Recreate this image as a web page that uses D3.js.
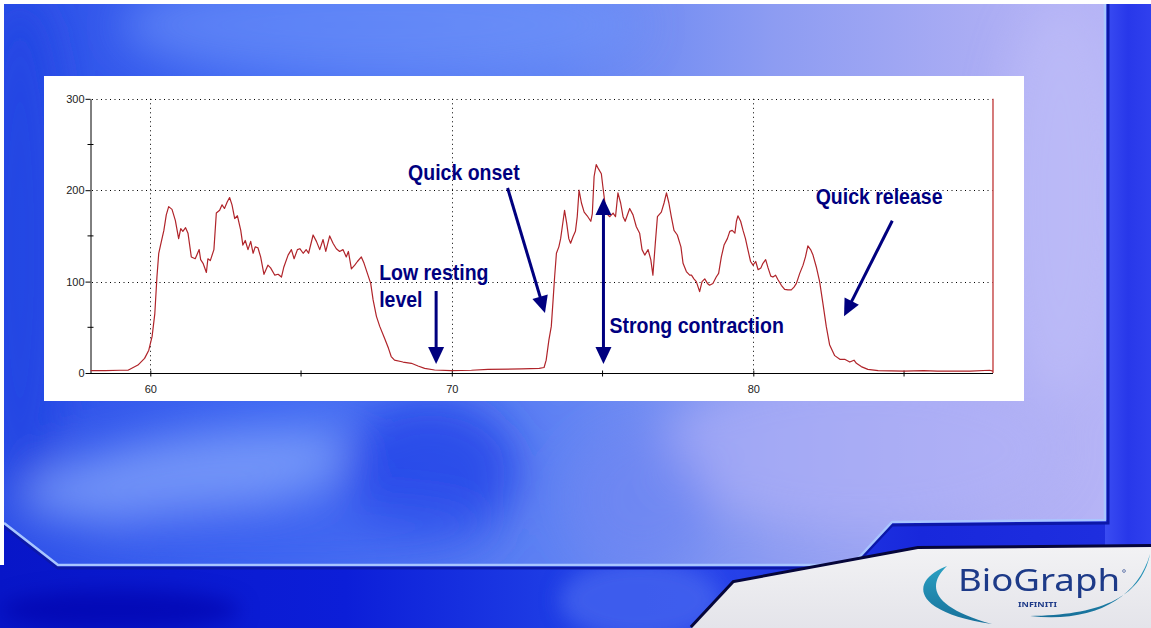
<!DOCTYPE html>
<html><head><meta charset="utf-8">
<script src="https://cdn.jsdelivr.net/npm/d3@7"></script>
<style>body{margin:0;background:#fff}svg{display:block}</style>
</head><body>
<svg id="c" width="1151" height="628"></svg>
<script>
// ---------- DATA ----------
const times = [58.02,58.5,59.0,59.26,59.59,59.81,59.95,60.06,60.15,60.22,60.28,60.34,60.45,60.53,60.61,60.72,60.83,60.94,61.01,61.08,61.17,61.25,61.36,61.49,61.62,61.67,61.75,61.86,61.91,61.99,62.11,62.19,62.30,62.38,62.46,62.55,62.63,62.71,62.80,62.89,63.0,63.07,63.15,63.24,63.33,63.41,63.48,63.57,63.66,63.77,63.90,63.99,64.13,64.24,64.35,64.43,64.57,64.68,64.77,64.88,64.96,65.07,65.17,65.25,65.40,65.51,65.62,65.73,65.82,65.95,66.06,66.17,66.28,66.39,66.50,66.57,66.67,66.78,66.87,67.0,67.09,67.20,67.31,67.39,67.50,67.61,67.77,67.90,67.99,68.1,68.38,68.66,68.88,69.10,69.43,69.98,70.65,71.2,72.31,72.9,73.06,73.13,73.22,73.30,73.36,73.41,73.47,73.55,73.61,73.69,73.74,73.81,73.88,73.94,74.02,74.10,74.16,74.22,74.30,74.39,74.49,74.61,74.66,74.72,74.79,74.87,74.96,75.01,75.12,75.24,75.35,75.43,75.51,75.60,75.68,75.75,75.90,76.01,76.12,76.23,76.31,76.40,76.51,76.60,76.67,76.75,76.82,76.95,77.04,77.12,77.20,77.28,77.37,77.48,77.60,77.67,77.78,77.89,77.95,78.03,78.11,78.22,78.30,78.39,78.48,78.55,78.66,78.77,78.85,78.94,79.03,79.14,79.22,79.30,79.39,79.44,79.49,79.58,79.66,79.74,79.82,79.91,79.99,80.08,80.16,80.25,80.32,80.41,80.49,80.58,80.65,80.74,80.82,80.93,81.04,81.15,81.26,81.35,81.43,81.54,81.65,81.73,81.81,81.90,81.98,82.09,82.20,82.31,82.42,82.53,82.70,82.87,83.03,83.20,83.34,83.42,83.58,83.80,84.14,85.0,85.65,86.1,87.2,87.84,87.95];
const values = [2.5,2.5,3,3,8.7,16,25,40,65,105,131,140,156,173,182,179,167,147,158,155,159,153,127,125,135,124,120,110,125,123,135,175,178,184,180,187,192,184,169,172,156,140,145,135,144,131,138,137,127,108,118,115,107,108,105,116,129,135,125,135,136,131,135,131,151,144,135,146,133,150,142,136,133,135,127,133,114,118,122,127,120,109,98,80,62,51,38,27,18,14,12,10.6,7.7,5,3.3,2.5,3,4,4.5,5,6,14,36,51,80,105,131,138,147,166,178,164,147,142,149,155,171,200,186,176,172,166,174,215,228,223,218,204,175,171,175,171,197,186,171,166,180,173,160,153,135,129,135,124,107,142,171,176,186,197,186,171,156,151,138,120,111,107,107,103,100,89,100,103,98,96,98,105,109,127,140,147,155,156,153,166,172,166,156,147,135,122,118,122,113,115,120,124,115,106,105,107,102,96,91.5,91,91,94,98,109,118,127,139,135,129,116,100,76,51,31,19,15,15,12,14,10.6,7,4,2.5,2,2.5,2,2,3,2];
const yTicks = [0, 100, 200, 300];
const yMinorTicks = [50, 150, 250];
const xTicks = [60, 70, 80];
const xMinorTicks = [65, 75, 85];
const annotationTexts = ["Quick onset", "Low resting", "level", "Strong contraction", "Quick release"];
const logoTexts = ["BioGraph", "INFINITI"];

// ---------- LAYOUT ----------
const svg = d3.select("#c");
const W = 1151, H = 628;
const xScale = d3.scaleLinear().domain([58, 88]).range([90, 994.5]);
const yScale = d3.scaleLinear().domain([0, 300]).range([373, 98.8]);
const navy = "#00007f";

const defs = svg.append("defs");
function lin(id, x2, y2, stops) {
  const g = defs.append("linearGradient").attr("id", id).attr("x1", 0).attr("y1", 0).attr("x2", x2).attr("y2", y2);
  stops.forEach(s => g.append("stop").attr("offset", s[0]).attr("stop-color", s[1]));
}
lin("panelGrad", 1, 0, [[0, "#2d4fe8"], [0.25, "#3f68f2"], [0.5, "#5f82f3"], [0.7, "#8d9cf2"], [0.9, "#adaef4"], [1, "#b6b4f6"]]);
lin("lowGrad", 1, 0, [[0, "#0816c8"], [0.3, "#0c1ed8"], [0.5, "#2040e6"], [0.62, "#2844ea"], [0.8, "#1828dc"], [1, "#2030e0"]]);
lin("stripGrad", 1, 0, [[0, "#3a4cf2"], [0.5, "#2838ea"], [1, "#3040ee"]]);
lin("grayGrad", 0, 1, [[0, "#f2f2f4"], [1, "#e4e4ea"]]);
lin("swoosh", 0, 1, [[0, "#2aa0c2"], [1, "#17709a"]]);
defs.append("filter").attr("id", "blur").attr("x", "-50%").attr("y", "-50%").attr("width", "200%").attr("height", "200%")
  .append("feGaussianBlur").attr("stdDeviation", 22);
defs.append("filter").attr("id", "blur2").attr("x", "-50%").attr("y", "-50%").attr("width", "200%").attr("height", "200%")
  .append("feGaussianBlur").attr("stdDeviation", 10);

const panelPts = [[0,0],[1105,0],[1105,520],[892,522],[852,565],[58,565],[4,523]];
defs.append("clipPath").attr("id", "panelClip").append("polygon").attr("points", panelPts.join(" "));

// lower dark area
svg.append("rect").attr("width", W).attr("height", H).attr("fill", "url(#lowGrad)");
svg.append("rect").attr("x", 1105).attr("y", 0).attr("width", 46).attr("height", 548).attr("fill", "url(#stripGrad)");
const low = svg.append("g").attr("filter", "url(#blur2)");
low.append("ellipse").attr("cx", 640).attr("cy", 600).attr("rx", 80).attr("ry", 40).attr("fill", "#4a68f0").attr("opacity", 0.7);
low.append("ellipse").attr("cx", 120).attr("cy", 610).attr("rx", 120).attr("ry", 20).attr("fill", "#0000a8").attr("opacity", 0.6);

// panel
const panel = svg.append("g").attr("clip-path", "url(#panelClip)");
panel.append("rect").attr("width", 1105).attr("height", 566).attr("fill", "url(#panelGrad)");
const blobs = panel.append("g").attr("filter", "url(#blur)");
blobs.append("ellipse").attr("cx", 380).attr("cy", 25).attr("rx", 260).attr("ry", 55).attr("fill", "#6f95fa").attr("opacity", 0.6);
blobs.append("ellipse").attr("cx", 20).attr("cy", 250).attr("rx", 50).attr("ry", 260).attr("fill", "#2244e2").attr("opacity", 0.8);
blobs.append("ellipse").attr("cx", 190).attr("cy", 475).attr("rx", 170).attr("ry", 40).attr("fill", "#85a6fb").attr("opacity", 0.75)
  .attr("transform", "rotate(-8 190 475)");
blobs.append("ellipse").attr("cx", 430).attr("cy", 470).attr("rx", 90).attr("ry", 70).attr("fill", "#1a3ae6").attr("opacity", 0.7);
blobs.append("ellipse").attr("cx", 300).attr("cy", 530).attr("rx", 200).attr("ry", 30).attr("fill", "#3a60f0").attr("opacity", 0.6);
blobs.append("ellipse").attr("cx", 860).attr("cy", 450).attr("rx", 200).attr("ry", 80).attr("fill", "#b2b2f6").attr("opacity", 0.6);
blobs.append("ellipse").attr("cx", 640).attr("cy", 500).attr("rx", 70).attr("ry", 70).attr("fill", "#6e86f2").attr("opacity", 0.6);
blobs.append("ellipse").attr("cx", 1060).attr("cy", 200).attr("rx", 60).attr("ry", 200).attr("fill", "#c0bef8").attr("opacity", 0.6);

// frame line
svg.append("polyline").attr("points", [[4,526],[58,568],[852,568],[892,525],[1108,523],[1108,0]].join(" "))
  .attr("fill", "none").attr("stroke", "#0c18a8").attr("stroke-width", 3);
svg.append("polyline").attr("points", panelPts.slice(1).concat([[4,523]]).join(" "))
  .attr("fill", "none").attr("stroke", "#a9c6ff").attr("stroke-width", 2.5).attr("stroke-linejoin", "round");

// gray logo area
const grayPts = [[692,628],[734,583],[918,549],[1151,547],[1151,628]];
svg.append("polyline").attr("points", grayPts.slice(0, 4).join(" ")).attr("fill", "none").attr("stroke", "#06063a").attr("stroke-width", 6);
svg.append("polygon").attr("points", grayPts.join(" ")).attr("fill", "url(#grayGrad)");

// white margins
svg.append("rect").attr("width", W).attr("height", 4).attr("fill", "#fff");
svg.append("rect").attr("width", 4).attr("height", 565).attr("fill", "#fff");

// ---------- CHART PANEL ----------
svg.append("rect").attr("x", 44).attr("y", 76).attr("width", 980).attr("height", 325).attr("fill", "#fff");

const chart = svg.append("g");
chart.selectAll("line.hg").data(yTicks.filter(d => d > 0)).join("line")
  .attr("x1", xScale(58) + 2).attr("x2", xScale(87.95))
  .attr("y1", d => Math.round(yScale(d)) + 0.5).attr("y2", d => Math.round(yScale(d)) + 0.5)
  .attr("stroke", "#000").attr("stroke-dasharray", "1,3.5").attr("stroke-width", 1);
chart.selectAll("line.vg").data(xTicks).join("line")
  .attr("x1", d => Math.round(xScale(d)) + 0.5).attr("x2", d => Math.round(xScale(d)) + 0.5)
  .attr("y1", yScale(300)).attr("y2", yScale(0))
  .attr("stroke", "#000").attr("stroke-dasharray", "1,3.5").attr("stroke-width", 1);

chart.append("line").attr("x1", xScale(87.95)).attr("x2", xScale(87.95))
  .attr("y1", yScale(300)).attr("y2", yScale(0)).attr("stroke", "#cc5a5a").attr("stroke-width", 1.6);

const yAxis = chart.append("g").attr("transform", `translate(${xScale(58) + 0.5},0)`)
  .call(d3.axisLeft(yScale).tickValues(yTicks).tickSize(5).tickPadding(1).tickSizeOuter(0));
yAxis.selectAll("text").attr("font-family", "Liberation Sans, Arial, sans-serif").attr("font-size", 11).attr("fill", "#222");
yAxis.select(".domain").attr("stroke", "#000");
yAxis.selectAll("line.minor").data(yMinorTicks).join("line").attr("class", "minor")
  .attr("x1", -3).attr("x2", 3).attr("y1", d => yScale(d)).attr("y2", d => yScale(d)).attr("stroke", "#000");

const xAxis = chart.append("g").attr("transform", `translate(0,${yScale(0) + 0.5})`)
  .call(d3.axisBottom(xScale).tickValues(xTicks).tickSize(3).tickSizeOuter(0));
xAxis.selectAll(".tick line").attr("y1", -3);
xAxis.selectAll("text").attr("y", 12).attr("font-family", "Liberation Sans, Arial, sans-serif").attr("font-size", 11).attr("fill", "#222");
xAxis.select(".domain").attr("stroke", "#000").attr("d", `M${xScale(58)},0H${xScale(87.95)}`);
xAxis.selectAll("line.minor").data(xMinorTicks).join("line").attr("class", "minor")
  .attr("x1", d => xScale(d)).attr("x2", d => xScale(d)).attr("y1", -3).attr("y2", 3).attr("stroke", "#000");

const series = times.map((t, i) => [t, values[i]]);
chart.append("path").datum(series)
  .attr("d", d3.line().x(d => xScale(d[0])).y(d => yScale(d[1])))
  .attr("fill", "none").attr("stroke", "#b0242a").attr("stroke-width", 1.2).attr("stroke-linejoin", "round");

// ---------- ANNOTATIONS ----------
const annoPos = [[68.55, 211], [67.59, 101.7], [67.59, 71.7], [75.23, 43.8], [82.07, 184.9]];
annotationTexts.forEach((t, i) => {
  chart.append("text")
    .attr("transform", `translate(${xScale(annoPos[i][0])},${yScale(annoPos[i][1])}) scale(1,1.15)`)
    .attr("font-family", "Liberation Sans, Arial, sans-serif").attr("font-weight", "bold")
    .attr("font-size", 19.5).attr("fill", navy).text(t);
});

const arrows = [
  { from: [69.48, 89.7], to: [69.48, 9.8], both: false },
  { from: [71.85, 202.4], to: [73.09, 65.6], both: false },
  { from: [75.03, 9.8], to: [75.03, 191.5], both: true },
  { from: [84.61, 166.6], to: [83.01, 62], both: false }
];
function head(x, y, ang) {
  const L = 17, w = 8;
  const bx = x - L * Math.cos(ang), by = y - L * Math.sin(ang);
  const nx = -Math.sin(ang) * w, ny = Math.cos(ang) * w;
  chart.append("polygon").attr("points", [[x, y], [bx + nx, by + ny], [bx - nx, by - ny]].join(" ")).attr("fill", navy);
}
arrows.forEach(a => {
  const x1 = xScale(a.from[0]), y1 = yScale(a.from[1]), x2 = xScale(a.to[0]), y2 = yScale(a.to[1]);
  const ang = Math.atan2(y2 - y1, x2 - x1);
  const sx = a.both ? x1 + 14 * Math.cos(ang) : x1, sy = a.both ? y1 + 14 * Math.sin(ang) : y1;
  chart.append("line").attr("x1", sx).attr("y1", sy)
    .attr("x2", x2 - 14 * Math.cos(ang)).attr("y2", y2 - 14 * Math.sin(ang))
    .attr("stroke", navy).attr("stroke-width", 3);
  head(x2, y2, ang);
  if (a.both) head(x1, y1, ang + Math.PI);
});

// ---------- LOGO ----------
const logo = svg.append("g");
logo.append("path").attr("d", "M947,566 C910,580 910,612 992,624 C932,607 926,586 947,566 Z").attr("fill", "url(#swoosh)");
logo.append("path").attr("d", "M1030,616 C1092,623 1137,600 1150,554 C1141,600 1096,615 1030,616 Z").attr("fill", "url(#swoosh)");
logo.append("text").attr("x", 958).attr("y", 591).attr("font-family", "'Noto Sans', 'DejaVu Sans', sans-serif")
  .attr("font-size", 31).attr("fill", "#1d3a88").attr("textLength", 162).attr("lengthAdjust", "spacingAndGlyphs")
  .text(logoTexts[0]);
logo.append("text").attr("x", 1018).attr("y", 607).attr("font-family", "'Noto Sans', 'DejaVu Sans', sans-serif").attr("font-weight", "bold")
  .attr("font-size", 7).attr("fill", "#1d3a88").attr("textLength", 39).attr("lengthAdjust", "spacingAndGlyphs").text(logoTexts[1]);
logo.append("circle").attr("cx", 1124).attr("cy", 571).attr("r", 1.4).attr("fill", "none").attr("stroke", "#1d3a88").attr("stroke-width", 0.6);
</script>
</body></html>
